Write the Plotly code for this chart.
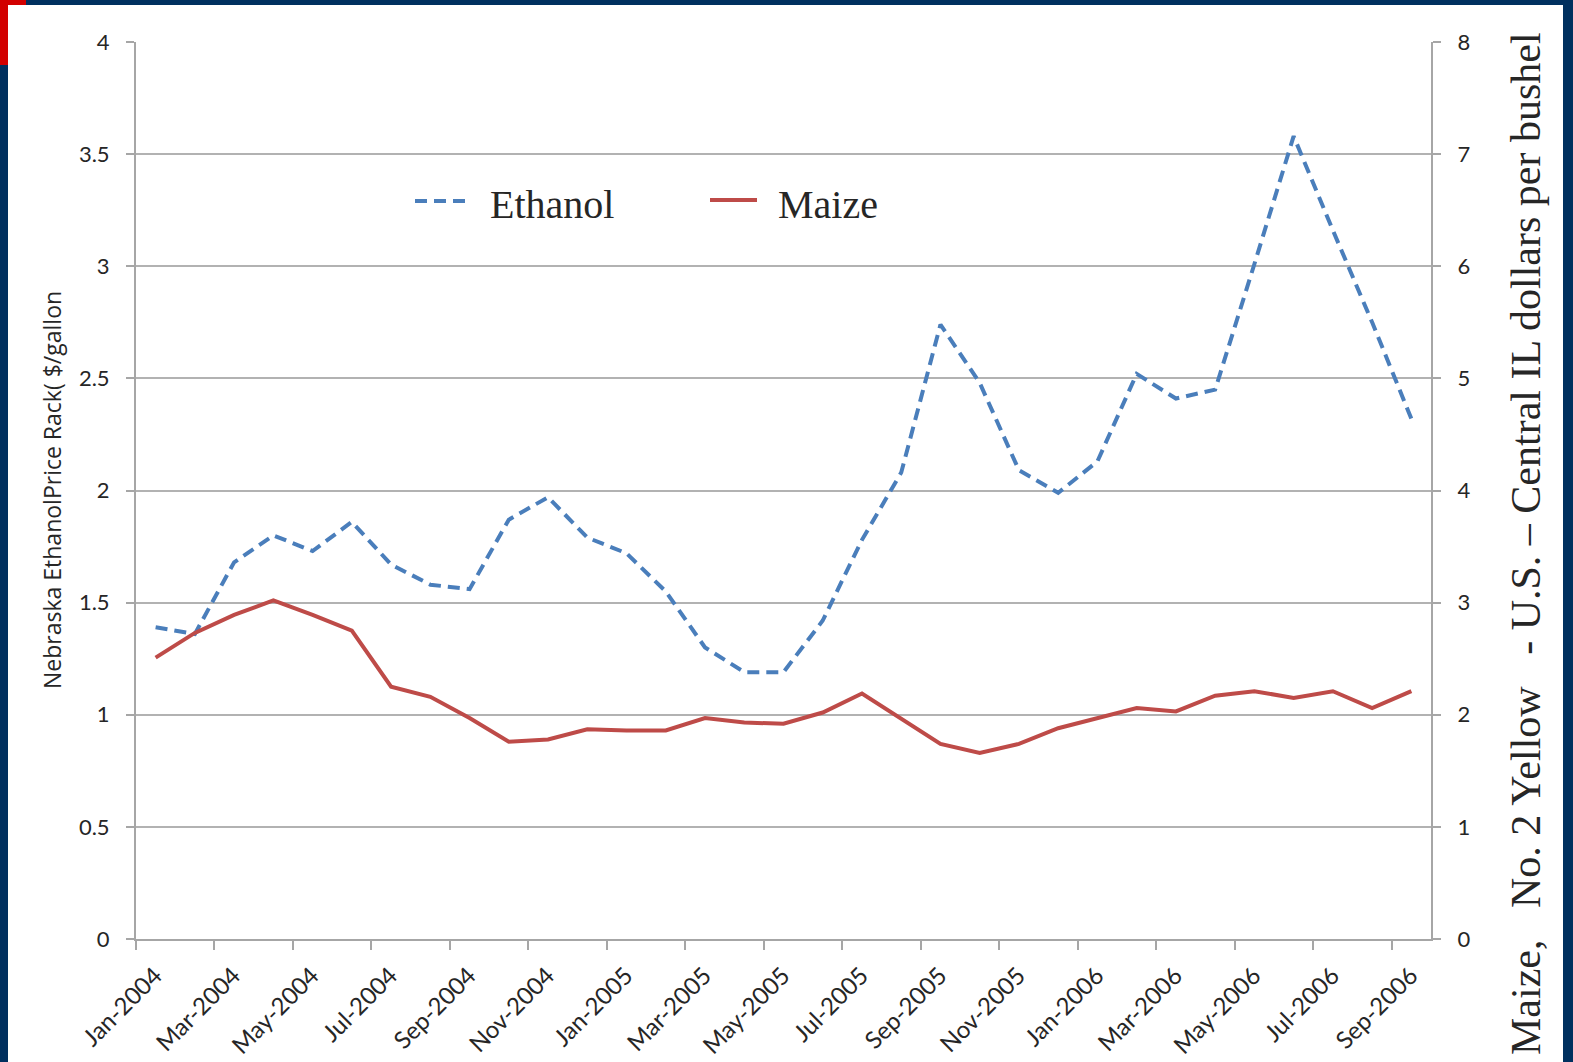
import plotly.graph_objects as go

# Monthly prices, Jan-2004 .. Sep-2006
ethanol = [1.39, 1.36, 1.68, 1.80, 1.73, 1.86, 1.67, 1.58, 1.56, 1.87, 1.97,
           1.79, 1.72, 1.55, 1.30, 1.19, 1.19, 1.42, 1.78, 2.08, 2.74, 2.48,
           2.09, 1.99, 2.13, 2.52, 2.41, 2.45, 3.01, 3.58, 3.16, 2.75, 2.32]
maize = [2.51, 2.73, 2.89, 3.02, 2.89, 2.75, 2.25, 2.16, 1.97, 1.76, 1.78,
         1.87, 1.86, 1.86, 1.97, 1.93, 1.92, 2.02, 2.19, 1.96, 1.74, 1.66,
         1.74, 1.88, 1.97, 2.06, 2.03, 2.17, 2.21, 2.15, 2.21, 2.06, 2.21]
tick_labels = ["Jan-2004", "Mar-2004", "May-2004", "Jul-2004", "Sep-2004",
               "Nov-2004", "Jan-2005", "Mar-2005", "May-2005", "Jul-2005",
               "Sep-2005", "Nov-2005", "Jan-2006", "Mar-2006", "May-2006",
               "Jul-2006", "Sep-2006"]

W, H = 1573, 1062
L, R, T, B = 136, 1431, 42, 939

month_idx = list(range(len(ethanol)))
tick_pos = [2 * k - 0.5 for k in range(len(tick_labels))]

NAVY = "#00305f"
RED = "#d20000"
GRID = "#b2b2b2"
TXT = "#262626"


def px(x):
    return (x - L) / (R - L)


def py(y):
    return (B - y) / (B - T)


fig = go.Figure()
fig.add_trace(go.Scatter(
    x=month_idx, y=ethanol, mode="lines", name="Ethanol", yaxis="y",
    line=dict(color="#4a7ebb", width=4, dash="12px,7px"), showlegend=False))
fig.add_trace(go.Scatter(
    x=month_idx, y=maize, mode="lines", name="Maize", yaxis="y2",
    line=dict(color="#be4b48", width=4), showlegend=False))

tick_font = dict(family="Lato", size=22, color=TXT)

fig.update_layout(
    width=W, height=H, autosize=False,
    margin=dict(l=L, r=W - R, t=T, b=H - B, pad=0),
    paper_bgcolor="white", plot_bgcolor="white",
    xaxis=dict(
        range=[-0.5, len(ethanol) - 0.5], tickmode="array",
        tickvals=tick_pos, ticktext=tick_labels, tickangle=-45,
        ticks="outside", ticklen=9, tickwidth=2, tickcolor="#a6a6a6",
        showline=True, linecolor="#a6a6a6", linewidth=2,
        showgrid=False, zeroline=False, automargin=False,
        tickfont=dict(family="Lato", size=24, color=TXT),
        ticklabelshift=19, ticklabelstandoff=2),
    yaxis=dict(
        range=[0, 4], dtick=0.5, tick0=0,
        ticks="outside", ticklen=8, tickwidth=2, tickcolor="#a6a6a6",
        showline=True, linecolor="#a6a6a6", linewidth=2,
        showgrid=True, gridcolor=GRID, gridwidth=2, zeroline=False,
        automargin=False, tickfont=tick_font, ticklabelstandoff=12),
    yaxis2=dict(
        range=[0, 8], dtick=1, tick0=0, overlaying="y", side="right",
        ticks="outside", ticklen=8, tickwidth=2, tickcolor="#a6a6a6",
        showline=True, linecolor="#a6a6a6", linewidth=2,
        showgrid=False, zeroline=False,
        automargin=False, tickfont=tick_font, ticklabelstandoff=12),
)

annotations = [
    dict(text="Nebraska EthanolPrice Rack( $/gallon", textangle=-90,
         x=px(52), y=py(490), xref="paper", yref="paper",
         xanchor="center", yanchor="middle", showarrow=False,
         font=dict(family="Open Sans", size=23, color=TXT)),
    dict(text="Maize,\u00a0\u00a0 No. 2 Yellow\u00a0\u00a0 - U.S. \u2013 Central IL dollars per bushel",
         textangle=-90, x=px(1526), y=py(544), xref="paper", yref="paper",
         xanchor="center", yanchor="middle", showarrow=False,
         font=dict(family="Liberation Serif", size=42, color=TXT)),
    dict(text="Ethanol", x=px(488), y=py(204), xref="paper", yref="paper",
         xanchor="left", yanchor="middle", showarrow=False,
         font=dict(family="Liberation Serif", size=40, color=TXT)),
    dict(text="Maize", x=px(776), y=py(204), xref="paper", yref="paper",
         xanchor="left", yanchor="middle", showarrow=False,
         font=dict(family="Liberation Serif", size=40, color=TXT)),
]

shapes = [
    # legend keys
    dict(type="line", xref="paper", yref="paper", x0=px(415), x1=px(468),
         y0=py(201), y1=py(201),
         line=dict(color="#4a7ebb", width=4, dash="12px,7px")),
    dict(type="line", xref="paper", yref="paper", x0=px(710), x1=px(757),
         y0=py(200), y1=py(200), line=dict(color="#be4b48", width=4)),
]

# slide frame around the chart
for x0, y0, x1, y1, c in [
    (0, 0, W, 5, NAVY),
    (0, 0, 8, H, NAVY),
    (1563, 0, W, H, NAVY),
    (0, 0, 26, 5, RED),
    (0, 0, 8, 65, RED),
]:
    shapes.append(dict(type="rect", xref="paper", yref="paper",
                       x0=px(x0), x1=px(x1), y0=py(y1), y1=py(y0),
                       fillcolor=c, line=dict(width=0), layer="above"))

fig.update_layout(annotations=annotations, shapes=shapes)
fig.write_html("out.html")
